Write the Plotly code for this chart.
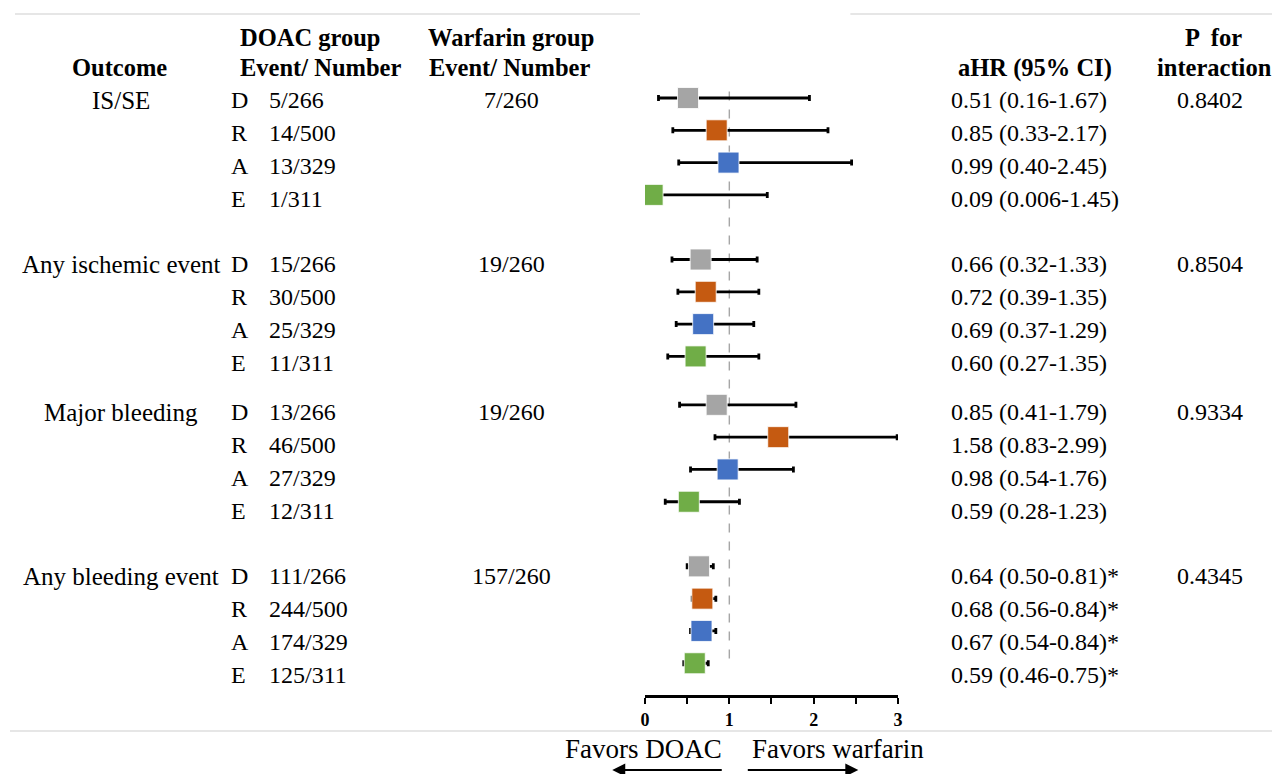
import plotly.graph_objects as go

# ---------------- data ----------------
outcomes = ["IS/SE", "Any ischemic event", "Major bleeding", "Any bleeding event"]
drugs = ["D", "R", "A", "E"]
doac_events = [
    ["5/266", "14/500", "13/329", "1/311"],
    ["15/266", "30/500", "25/329", "11/311"],
    ["13/266", "46/500", "27/329", "12/311"],
    ["111/266", "244/500", "174/329", "125/311"],
]
warfarin_events = ["7/260", "19/260", "19/260", "157/260"]
ahr_labels = [
    ["0.51 (0.16-1.67)", "0.85 (0.33-2.17)", "0.99 (0.40-2.45)", "0.09 (0.006-1.45)"],
    ["0.66 (0.32-1.33)", "0.72 (0.39-1.35)", "0.69 (0.37-1.29)", "0.60 (0.27-1.35)"],
    ["0.85 (0.41-1.79)", "1.58 (0.83-2.99)", "0.98 (0.54-1.76)", "0.59 (0.28-1.23)"],
    ["0.64 (0.50-0.81)*", "0.68 (0.56-0.84)*", "0.67 (0.54-0.84)*", "0.59 (0.46-0.75)*"],
]
p_interaction = ["0.8402", "0.8504", "0.9334", "0.4345"]

# plotted hazard ratios (as drawn in the picture), per outcome, per drug D/R/A/E
hr = [
    [0.51, 0.85, 0.99, 0.09],
    [0.66, 0.72, 0.69, 0.60],
    [0.85, 1.58, 0.98, 0.52],
    [0.64, 0.68, 0.67, 0.59],
]
ci_low = [
    [0.16, 0.33, 0.40, 0.006],
    [0.32, 0.39, 0.37, 0.27],
    [0.41, 0.83, 0.54, 0.24],
    [0.50, 0.56, 0.54, 0.46],
]
ci_high = [
    [1.95, 2.17, 2.45, 1.45],
    [1.33, 1.35, 1.29, 1.35],
    [1.79, 2.99, 1.76, 1.12],
    [0.81, 0.84, 0.84, 0.75],
]
x_ticks = [0, 0.5, 1, 1.5, 2, 2.5, 3]
x_ticktext = ["0", "", "1", "", "2", "", "3"]

# ---------------- layout constants ----------------
OFF = 8  # page body margin
W, H = 1280 - OFF, 774 - OFF
group_start = [0, 5, 9.5, 14.5]
colors = ["#A5A5A5", "#C55A11", "#4472C4", "#70AD47"]
FONT = "Liberation Serif"
FS = 24
AXIS_BOTTOM_PX = 695 - OFF


def px_x(p):
    return (p - OFF) / W


def px_y(p):
    return 1 - (p - OFF) / H


rows = [[g + i for i in range(4)] for g in group_start]

fig = go.Figure()

# reference line at HR = 1
fig.add_trace(go.Scatter(
    x=[1, 1], y=[rows[0][0] - 0.2, rows[-1][-1] + 0.1], mode="lines",
    line=dict(color="#A6A6A6", width=1.4, dash="dash"),
    hoverinfo="skip", showlegend=False))

for j, d in enumerate(drugs):
    xs = [hr[g][j] for g in range(4)]
    ys = [rows[g][j] for g in range(4)]
    plus = [ci_high[g][j] - hr[g][j] for g in range(4)]
    minus = [hr[g][j] - ci_low[g][j] for g in range(4)]
    fig.add_trace(go.Scatter(
        x=xs, y=ys, mode="markers",
        marker=dict(symbol="square", size=21, color=colors[j],
                    line=dict(color="rgba(255,255,255,0.8)", width=1)),
        error_x=dict(type="data", symmetric=False, array=plus, arrayminus=minus,
                     color="black", thickness=2.8, width=3),
        showlegend=False, name=d))

# invisible trace on the text axis
fig.add_trace(go.Scatter(x=[0], y=[0], yaxis="y2", mode="markers",
                         marker=dict(opacity=0), hoverinfo="skip", showlegend=False))

ann = []


def txt(x, y, s, yref="y2", xanchor="left", bold=False, size=FS):
    ann.append(dict(x=x, y=y, xref="paper", yref=yref, text=("<b>%s</b>" % s) if bold else s,
                    showarrow=False, xanchor=xanchor, yanchor="middle",
                    font=dict(family=FONT, size=size, color="black")))


# headers
txt(px_x(115), px_y(68), "Outcome", yref="paper", xanchor="center", bold=True, size=24.5)
txt(px_x(235), px_y(38), "DOAC group", yref="paper", bold=True, size=24.5)
txt(px_x(235), px_y(68), "Event/ Number", yref="paper", bold=True, size=24.5)
txt(px_x(510), px_y(38), "Warfarin group", yref="paper", xanchor="center", bold=True, size=24.5)
txt(px_x(508), px_y(68), "Event/ Number", yref="paper", xanchor="center", bold=True, size=24.5)
txt(px_x(1038), px_y(68), "aHR (95% CI)", yref="paper", xanchor="center", bold=True, size=24.5)
txt(px_x(1218), px_y(38), "P  for", yref="paper", xanchor="center", bold=True, size=24.5)
txt(px_x(1219), px_y(68), "interaction", yref="paper", xanchor="center", bold=True, size=24.5)

for g in range(4):
    txt(px_x(117), rows[g][0], outcomes[g], xanchor="center", size=25)
    txt(px_x(510), rows[g][0], warfarin_events[g], xanchor="center")
    txt(px_x(1214), rows[g][0], p_interaction[g], xanchor="center")
    for j in range(4):
        txt(px_x(226), rows[g][j], drugs[j])
        txt(px_x(264), rows[g][j], doac_events[g][j])
        txt(px_x(951), rows[g][j], ahr_labels[g][j])

# favors labels + arrows
txt(px_x(643), px_y(749), "Favors DOAC", yref="paper", xanchor="center", size=27)
txt(px_x(840), px_y(749), "Favors warfarin", yref="paper", xanchor="center", size=27)
ann.append(dict(x=px_x(612), y=px_y(770), xref="paper", yref="paper", ax=111, ay=0,
                axref="pixel", ayref="pixel", showarrow=True, text="",
                arrowhead=2, arrowsize=1.3, arrowwidth=2, arrowcolor="black"))
ann.append(dict(x=px_x(860), y=px_y(770), xref="paper", yref="paper", ax=-112, ay=0,
                axref="pixel", ayref="pixel", showarrow=True, text="",
                arrowhead=2, arrowsize=1.3, arrowwidth=2, arrowcolor="black"))

shapes = [
    dict(type="line", xref="paper", yref="paper", x0=px_x(10), x1=px_x(640),
         y0=px_y(14), y1=px_y(14), line=dict(color="#E6E6E6", width=2)),
    dict(type="line", xref="paper", yref="paper", x0=px_x(852), x1=1,
         y0=px_y(14), y1=px_y(14), line=dict(color="#E6E6E6", width=2)),
    dict(type="line", xref="paper", yref="paper", x0=px_x(5), x1=1,
         y0=px_y(731), y1=px_y(731), line=dict(color="#E6E6E6", width=2)),
]

# marker axis: row 0 at 98px, 32.3 px per row
ydom_bottom = 1 - AXIS_BOTTOM_PX / H
m_slope, m_top = 32.3, 98 - OFF
y_top = -m_top / m_slope
y_bot = y_top + AXIS_BOTTOM_PX / m_slope
# text axis: row 0 at 100px, 32.85 px per row
t_slope, t_top = 32.85, 100 - OFF
y2_top = -t_top / t_slope
y2_bot = y2_top + AXIS_BOTTOM_PX / t_slope

fig.update_layout(
    width=W, height=H, margin=dict(l=0, r=0, t=0, b=0),
    plot_bgcolor="white", paper_bgcolor="white",
    xaxis=dict(domain=[px_x(645), px_x(900)], range=[0, 3], tickvals=x_ticks, ticktext=x_ticktext,
               showline=True, linecolor="black", linewidth=3, ticks="outside", ticklen=6,
               tickwidth=2, tickcolor="black", showgrid=False, zeroline=False,
               tickfont=dict(family=FONT, size=18, color="black", weight="bold"), anchor="y"),
    yaxis=dict(domain=[ydom_bottom, 1], range=[y_bot, y_top], visible=False,
               showgrid=False, zeroline=False),
    yaxis2=dict(overlaying="y", range=[y2_bot, y2_top], visible=False,
                showgrid=False, zeroline=False),
    annotations=ann, shapes=shapes, showlegend=False,
)

fig.write_html("out.html")
